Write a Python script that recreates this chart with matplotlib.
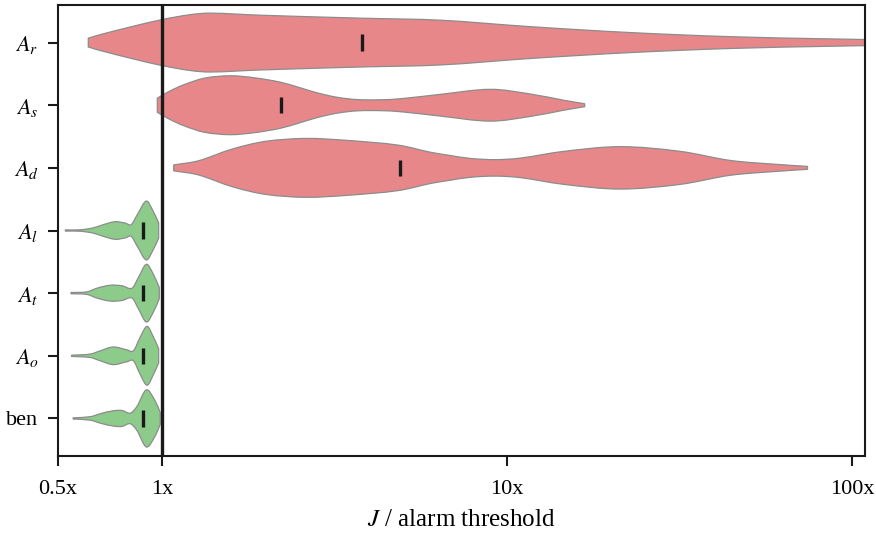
import numpy as np
import matplotlib
matplotlib.use('Agg')
import matplotlib.pyplot as plt
from matplotlib.path import Path
from matplotlib.patches import PathPatch

plt.rcParams['font.family'] = ['Liberation Serif', 'DejaVu Serif']
plt.rcParams['mathtext.fontset'] = 'stix'

labels = ['$A_r$', '$A_s$', '$A_d$', '$A_l$', '$A_t$', '$A_o$', 'ben']
groups = ['attack', 'attack', 'attack', 'benign', 'benign', 'benign', 'benign']

# violin outlines: J/threshold value -> relative half width
Ar_x = [0.612, 0.663, 0.81, 1.0, 1.21, 1.38, 1.93, 3.76, 6.42, 11.7, 22.8, 44.5, 86.6, 138.0]
Ar_w = [0.15, 0.27, 0.53, 0.78, 0.95, 1.0, 0.93, 0.83, 0.76, 0.54, 0.34, 0.2, 0.125, 0.085]
As_x = [0.97, 1.05, 1.154, 1.33, 1.58, 1.86, 2.21, 2.52, 2.82, 3.22, 3.69, 4.31, 4.91, 6.42, 8.96, 11.7, 14.6, 16.8]
As_w = [0.24, 0.47, 0.69, 0.92, 1.0, 0.93, 0.78, 0.59, 0.42, 0.27, 0.19, 0.185, 0.22, 0.37, 0.54, 0.38, 0.17, 0.05]
Ad_x = [1.082, 1.276, 1.6, 1.995, 2.61, 3.47, 4.85, 6.01, 6.77, 7.84, 9.26, 10.9, 14.6, 21.3, 31.8, 44.5, 62.1, 74.3]
Ad_w = [0.1, 0.24, 0.64, 0.9, 1.0, 0.93, 0.77, 0.53, 0.43, 0.32, 0.28, 0.33, 0.56, 0.72, 0.56, 0.25, 0.11, 0.05]
Al_x = [0.525, 0.58, 0.633, 0.677, 0.733, 0.784, 0.815, 0.849, 0.902, 0.945, 0.979]
Al_w = [0.02, 0.025, 0.09, 0.2, 0.3, 0.25, 0.2, 0.54, 1.0, 0.64, 0.26]
At_x = [0.545, 0.607, 0.649, 0.709, 0.767, 0.82, 0.855, 0.902, 0.945, 0.983]
At_w = [0.02, 0.045, 0.17, 0.27, 0.25, 0.17, 0.53, 0.98, 0.64, 0.19]
Ao_x = [0.547, 0.621, 0.663, 0.723, 0.793, 0.827, 0.866, 0.906, 0.945, 0.979]
Ao_w = [0.02, 0.06, 0.17, 0.3, 0.2, 0.17, 0.64, 1.0, 0.64, 0.24]
ben_x = [0.553, 0.621, 0.663, 0.723, 0.767, 0.81, 0.847, 0.902, 0.958, 0.989]
ben_w = [0.02, 0.06, 0.16, 0.26, 0.27, 0.18, 0.41, 0.97, 0.58, 0.2]

medians = [3.8, 2.21, 4.9, 0.88, 0.88, 0.88, 0.88]

xs = [Ar_x, As_x, Ad_x, Al_x, At_x, Ao_x, ben_x]
ws = [Ar_w, As_w, Ad_w, Al_w, At_w, Ao_w, ben_w]

colors = {'attack': '#e8878a', 'benign': '#8dcb8a'}
edge = '#8c8c8c'
dark = '#1a1a1a'
half = 0.47


def smooth_side(u, w):
    # cubic hermite pieces (as bezier) through the knots, w as a function of u
    n = len(u)
    m = np.zeros(n)
    m[0] = (w[1] - w[0]) / (u[1] - u[0])
    m[-1] = (w[-1] - w[-2]) / (u[-1] - u[-2])
    for i in range(1, n - 1):
        m[i] = (w[i + 1] - w[i - 1]) / (u[i + 1] - u[i - 1])
    verts = []
    for i in range(n - 1):
        h = (u[i + 1] - u[i]) / 3
        verts += [[u[i] + h, w[i] + m[i] * h], [u[i + 1] - h, w[i + 1] - m[i + 1] * h], [u[i + 1], w[i + 1]]]
    return verts


fig = plt.figure(figsize=(8.76, 5.37), dpi=100)
ax = fig.add_axes([0.0662, 0.1508, 0.9212, 0.8399])
ax.set_xscale('log')

for pos, (vx, vw, g) in enumerate(zip(xs, ws, groups)):
    u = np.log10(vx)
    w = np.array(vw) * half
    top = smooth_side(u, w)
    bot = smooth_side(u[::-1], -w[::-1])
    verts = [[u[0], w[0]]] + top + [[u[-1], -w[-1]]] + bot + [[u[0], w[0]]]
    codes = [Path.MOVETO] + [Path.CURVE4] * len(top) + [Path.LINETO] + [Path.CURVE4] * len(bot) + [Path.CLOSEPOLY]
    verts = np.array(verts)
    verts[:, 0] = 10 ** verts[:, 0]
    verts[:, 1] = pos - verts[:, 1]
    ax.add_patch(PathPatch(Path(verts, codes), facecolor=colors[g], edgecolor=edge, lw=0.9, zorder=1))

pos = np.arange(len(labels))
ax.vlines(medians, pos - 0.13, pos + 0.13, color=dark, lw=2.4, zorder=3)
ax.axvline(1, color=dark, lw=2.4, zorder=4)

ax.set_xlim(0.5, 109)
ax.set_ylim(6.6, -0.6)
ax.set_xticks([0.5, 1, 10, 100])
ax.set_xticklabels(['0.5x', '1x', '10x', '100x'])
ax.xaxis.set_minor_locator(matplotlib.ticker.NullLocator())
ax.set_yticks(pos)
ax.set_yticklabels(labels)
ax.tick_params(axis='both', labelsize=16, length=7, width=1.5, color=dark)
ax.tick_params(axis='x', pad=10.5)
ax.tick_params(axis='y', pad=7)
for s in ax.spines.values():
    s.set_linewidth(1.5)
    s.set_color(dark)
ax.set_xlabel('$J$ / alarm threshold', fontsize=18, labelpad=7)

fig.savefig('out.png', dpi=100)
